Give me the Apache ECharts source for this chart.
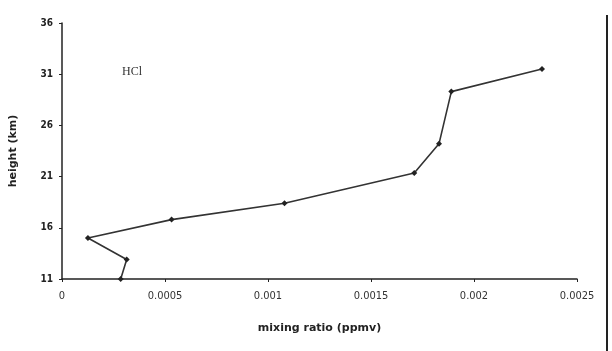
<!DOCTYPE html>
<html><head><meta charset="utf-8">
<script src="https://cdn.jsdelivr.net/npm/echarts@6/dist/echarts.min.js"></script>
<style>html,body{margin:0;padding:0;background:#fff}#c{width:612px;height:351px}</style>
</head><body><div id="c"></div>
<script>
const mixingRatio = [0.000285, 0.000314, 0.000126, 0.000532, 0.00108, 0.00171, 0.00183, 0.00189, 0.00233];
const heightKm = [11.0, 12.9, 15.0, 16.8, 18.4, 21.35, 24.2, 29.3, 31.5];
const xTicks = [0, 0.0005, 0.001, 0.0015, 0.002, 0.0025];
const yTicks = [11, 16, 21, 26, 31, 36];
const seriesLabel = 'HCl';

const chart = echarts.init(document.getElementById('c'), null, {renderer: 'canvas'});
const fontFam = '"Liberation Sans Narrow", "DejaVu Sans Condensed", Arial, sans-serif';
chart.setOption({
  animation: false,
  backgroundColor: '#fff',
  grid: {left: 62, right: 35, top: 23, bottom: 72},
  xAxis: {
    type: 'value', min: 0, max: 0.0025, interval: 0.0005,
    name: 'mixing ratio (ppmv)', nameLocation: 'middle', nameGap: 44,
    nameTextStyle: {color: '#222', fontSize: 11, fontWeight: 'bold', fontFamily: 'DejaVu Sans'},
    axisLine: {lineStyle: {color: '#222', width: 1.5}},
    axisTick: {inside: false, length: 3, lineStyle: {color: '#222'}},
    axisLabel: {color: '#333', fontSize: 11, fontFamily: fontFam, margin: 12,
      formatter: v => { const i = xTicks.findIndex(t => Math.abs(t - v) < 1e-9); return i >= 0 ? String(xTicks[i]) : ''; }},
    splitLine: {show: false}
  },
  yAxis: {
    type: 'value', min: 11, max: 36, interval: 5,
    name: 'height (km)', nameLocation: 'middle', nameGap: 43, nameRotate: 90,
    nameTextStyle: {color: '#222', fontSize: 11, fontWeight: 'bold', fontFamily: 'DejaVu Sans'},
    axisLine: {show: true, lineStyle: {color: '#222', width: 1.5}},
    axisTick: {show: true, length: 3, lineStyle: {color: '#222'}},
    axisLabel: {color: '#222', fontSize: 10, fontWeight: 'bold', fontFamily: fontFam, margin: 9,
      formatter: v => yTicks.includes(v) ? String(v) : ''},
    splitLine: {show: false}
  },
  series: [{
    type: 'line', name: seriesLabel,
    data: mixingRatio.map((x, i) => [x, heightKm[i]]),
    symbol: 'diamond', symbolSize: 6,
    lineStyle: {color: '#333', width: 1.6},
    itemStyle: {color: '#222'}
  }],
  graphic: [
    {type: 'text', left: 122, top: 66, style: {text: seriesLabel, fontSize: 12, fontFamily: 'Liberation Serif', fill: '#333'}},
    {type: 'line', shape: {x1: 607, y1: 15, x2: 607, y2: 351}, style: {stroke: '#222', lineWidth: 2}}
  ]
});
</script></body></html>
